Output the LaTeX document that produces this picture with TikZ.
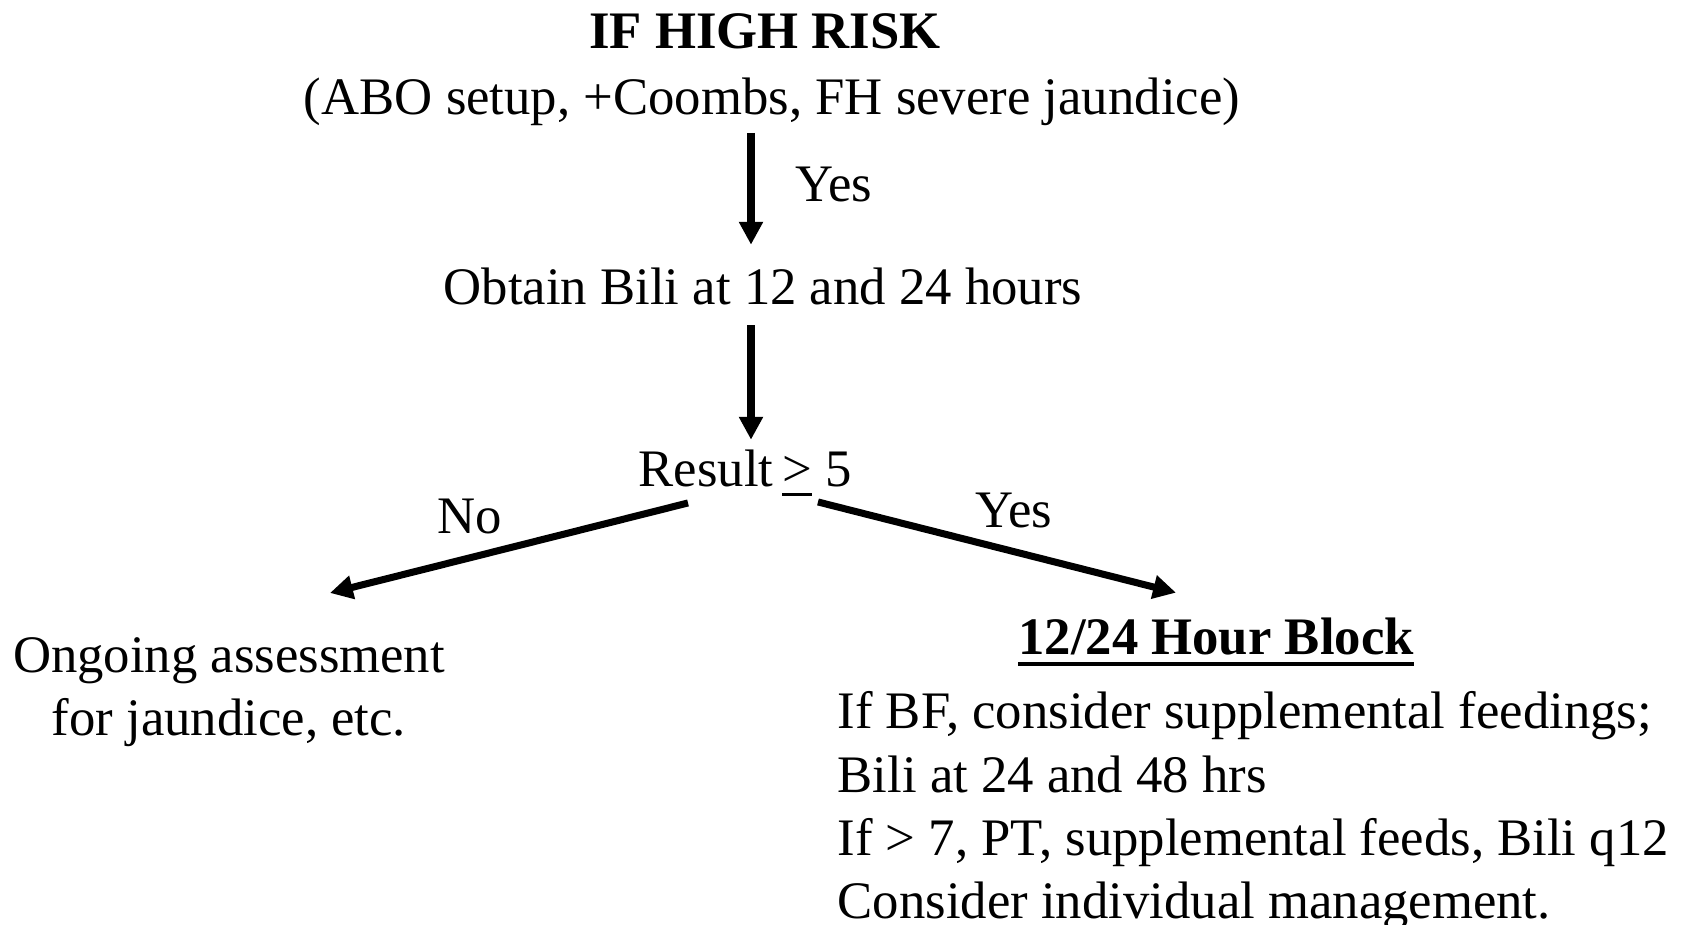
\documentclass[tikz,border=0pt]{standalone}
\usepackage{fontspec}
\setmainfont{Liberation Serif}
\usetikzlibrary{arrows.meta,positioning}

\newcommand{\ruled}[3]{\setbox0\hbox{#1}\rlap{\rule[-#2]{\wd0}{#3}}\box0\relax}

\begin{document}
\begin{tikzpicture}[
    every node/.style={inner sep=0pt, font=\fontsize{15pt}{18pt}\selectfont},
    flow/.style={line width=2pt, -{Triangle[width=6.5pt,length=6.5pt]}}]
\useasboundingbox (0,0) rectangle (16.96,9.25);
\coordinate (spine) at (7.51,0);

\node[anchor=base] (risk) at (7.65,8.76) {\textbf{IF HIGH RISK}};
\node[anchor=base] (criteria) at (7.72,8.10) {(ABO setup, +Coombs, FH severe jaundice)};
\node[anchor=base] (obtain) at (7.63,6.20) {Obtain Bili at 12 and 24 hours};
\node[anchor=base] (result) at (7.45,4.38) {Result\kern2.5pt\ruled{>}{2.6pt}{0.9pt} 5};
\node[anchor=north, align=center] (ongoing) at (2.29,2.88) {Ongoing assessment\\for jaundice, etc.};
\node[anchor=base] (block) at (12.16,2.70) {\ruled{\textbf{12/24 Hour Block}}{3.1pt}{1.1pt}};
\node[anchor=north west, align=left] (plan) at (8.37,2.34)
    {If BF, consider supplemental feedings;\\
     Bili at 24 and 48 hrs\\
     If > 7, PT, supplemental feeds, Bili q12\\
     Consider individual management.};

\node[anchor=base west] (yesa) at (7.95,7.23) {Yes};
\node[anchor=base] (no) at (4.70,3.91) {No};
\node[anchor=base] (yesb) at (10.14,3.97) {Yes};

\draw[flow, shorten <=0.06cm, shorten >=0.23cm] (criteria.south -| spine) -- (obtain.north -| spine);
\draw[flow, shorten <=0.19cm, shorten >=0.10cm] (obtain.south -| spine) -- (result.north -| spine);
\draw[flow] ([shift={(-0.57,-0.16)}]result.base) -- ([shift={(1.01,0.44)}]ongoing.north);
\draw[flow] ([shift={(0.73,-0.15)}]result.base) -- ([shift={(-0.40,0.25)}]block.north);

\end{tikzpicture}
\end{document}
